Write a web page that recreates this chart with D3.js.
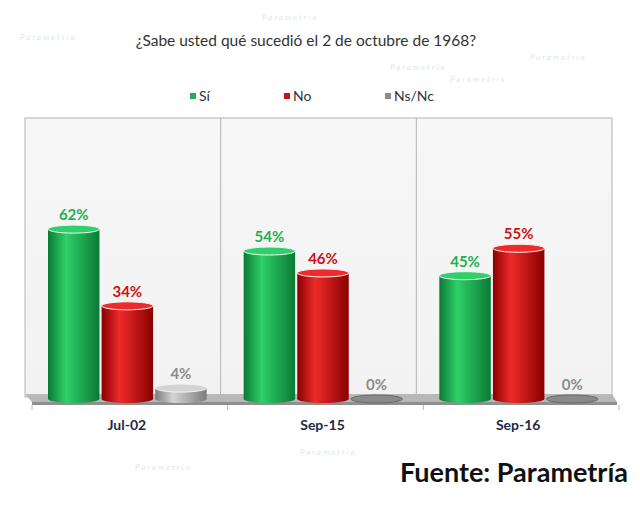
<!DOCTYPE html>
<meta charset="utf-8">
<script src="https://d3js.org/d3.v7.min.js"></script>
<style>
  body { margin: 0; background: #fff; }
  text { font-family: Lato, "Open Sans", sans-serif; }
</style>
<div id="chart"></div>
<script>
// data
var fechas = ["Jul-02", "Sep-15", "Sep-16"];
var series = ["Sí", "No", "Ns/Nc"];
var si = [62, 54, 45];
var no = [34, 46, 55];
var nsnc = [4, 0, 0];

var colores = {"Sí": ["#0a7a34", "#2fd06a"], "No": ["#8a0000", "#ee2a2a"], "Ns/Nc": ["#7d7d7d", "#d4d4d4"]};
var colorEtiqueta = {"Sí": "#22b04f", "No": "#cc1111", "Ns/Nc": "#8c8c8c"};

var filas = fechas.map(function(f, i) {
  return {fecha: f, valores: [
    {serie: "Sí", v: si[i]}, {serie: "No", v: no[i]}, {serie: "Ns/Nc", v: nsnc[i]}]};
});

var width = 640, height = 509;
var plot = {left: 25, right: 612, top: 118, bottom: 397};

var svg = d3.select("#chart").append("svg")
  .attr("width", width)
  .attr("height", height);

var defs = svg.append("defs");
series.forEach(function(s, i) {
  var g = defs.append("linearGradient").attr("id", "cil" + i)
    .attr("x1", "0%").attr("x2", "100%").attr("y1", "0%").attr("y2", "0%");
  g.append("stop").attr("offset", "0%").attr("stop-color", colores[s][0]);
  g.append("stop").attr("offset", "35%").attr("stop-color", colores[s][1]);
  g.append("stop").attr("offset", "100%").attr("stop-color", colores[s][0]);
});
var fondo = defs.append("linearGradient").attr("id", "fondo")
  .attr("x1", "0%").attr("x2", "0%").attr("y1", "0%").attr("y2", "100%");
fondo.append("stop").attr("offset", "0%").attr("stop-color", "#f7f7f7");
fondo.append("stop").attr("offset", "100%").attr("stop-color", "#f2f2f2");

// faint watermark
var marcas = [[262, 20], [20, 40], [450, 82], [390, 70], [530, 60], [135, 470], [300, 455]];
svg.append("g").selectAll("text").data(marcas).enter().append("text")
  .attr("x", function(d) { return d[0]; })
  .attr("y", function(d) { return d[1]; })
  .attr("font-size", 8)
  .attr("font-style", "italic")
  .attr("letter-spacing", 2)
  .attr("fill", "#dde7ee")
  .text("Parametria");

// title
svg.append("text")
  .attr("x", 306).attr("y", 46)
  .attr("text-anchor", "middle")
  .attr("font-size", 15.5)
  .attr("fill", "#333")
  .text("¿Sabe usted qué sucedió el 2 de octubre de 1968?");

// legend
var leyX = [190, 284, 385];
var ley = svg.append("g").selectAll("g").data(series).enter().append("g")
  .attr("transform", function(d, i) { return "translate(" + leyX[i] + ",91)"; });
ley.append("rect").attr("width", 6).attr("height", 6).attr("y", 2)
  .attr("fill", function(d) { return colorEtiqueta[d]; });
ley.append("text").attr("x", 9).attr("y", 10)
  .attr("font-size", 14).attr("fill", "#333")
  .text(function(d) { return d; });

// plot area
svg.append("rect")
  .attr("x", plot.left).attr("y", plot.top)
  .attr("width", plot.right - plot.left).attr("height", plot.bottom - plot.top)
  .attr("fill", "url(#fondo)")
  .attr("stroke", "#b4b4b4");

var x0 = d3.scaleBand().domain(fechas).range([plot.left, plot.right]);
var x1 = d3.scaleBand().domain(series).range([23, x0.bandwidth() - 14]).paddingInner(0.04);
var y = d3.scaleLinear().domain([0, 100]).range([399, 125]);

// dividers
svg.append("g").selectAll("line").data(fechas.slice(1)).enter().append("line")
  .attr("x1", function(d) { return x0(d); }).attr("x2", function(d) { return x0(d); })
  .attr("y1", plot.top).attr("y2", plot.bottom)
  .attr("stroke", "#b4b4b4");

// floor
svg.append("polygon")
  .attr("points", [[plot.left, 394], [plot.right, 394], [plot.right + 5, 402], [plot.left + 7, 402]].join(" "))
  .attr("fill", "#b8b8b8");
svg.append("polygon")
  .attr("points", [[plot.left + 7, 402], [plot.right + 5, 402], [plot.right + 5, 405], [plot.left + 7, 405]].join(" "))
  .attr("fill", "#8f8f8f");
svg.append("g").selectAll("line").data(fechas.concat(["fin"])).enter().append("line")
  .attr("x1", function(d, i) { return (i < 3 ? x0(d) : plot.right) + 7; })
  .attr("x2", function(d, i) { return (i < 3 ? x0(d) : plot.right) + 7; })
  .attr("y1", 405).attr("y2", 410)
  .attr("stroke", "#b4b4b4");

// bars
var grupos = svg.append("g").selectAll("g").data(filas).enter().append("g")
  .attr("transform", function(d) { return "translate(" + x0(d.fecha) + ",0)"; });

var barras = grupos.selectAll("g").data(function(d) { return d.valores; }).enter().append("g");
var ry = 4;

barras.filter(function(d) { return d.v > 0; }).append("rect")
  .attr("x", function(d) { return x1(d.serie); })
  .attr("y", function(d) { return y(d.v); })
  .attr("width", x1.bandwidth())
  .attr("height", function(d) { return y(0) - y(d.v); })
  .attr("fill", function(d, i) { return "url(#cil" + series.indexOf(d.serie) + ")"; });
// bottom ellipse
barras.append("ellipse")
  .attr("cx", function(d) { return x1(d.serie) + x1.bandwidth() / 2; })
  .attr("cy", y(0))
  .attr("rx", x1.bandwidth() / 2)
  .attr("ry", ry)
  .attr("fill", function(d) { return d.v > 0 ? "url(#cil" + series.indexOf(d.serie) + ")" : "#9a9a9a"; });
// top cap
barras.append("ellipse")
  .attr("cx", function(d) { return x1(d.serie) + x1.bandwidth() / 2; })
  .attr("cy", function(d) { return y(d.v); })
  .attr("rx", x1.bandwidth() / 2)
  .attr("ry", ry)
  .attr("fill", function(d) { return d.v > 0 ? colores[d.serie][1] : "#8a8a8a"; })
  .attr("stroke", function(d) { return d.v > 0 ? "#f4f4f4" : "#6a6a6a"; })
  .attr("stroke-width", 1);

// value labels
barras.append("text")
  .attr("x", function(d) { return x1(d.serie) + x1.bandwidth() / 2; })
  .attr("y", function(d) { return y(d.v) - 9; })
  .attr("text-anchor", "middle")
  .attr("font-size", 15)
  .attr("font-weight", "bold")
  .attr("fill", function(d) { return colorEtiqueta[d.serie]; })
  .text(function(d) { return d.v + "%"; });

// category labels
svg.append("g").selectAll("text").data(fechas).enter().append("text")
  .attr("x", function(d) { return x0(d) + x0.bandwidth() / 2 + 4; })
  .attr("y", 430)
  .attr("text-anchor", "middle")
  .attr("font-size", 14)
  .attr("font-weight", "bold")
  .attr("fill", "#1f2a44")
  .text(function(d) { return d; });

// source
svg.append("text")
  .attr("x", 628).attr("y", 482)
  .attr("text-anchor", "end")
  .attr("font-size", 27)
  .attr("font-weight", "bold")
  .attr("fill", "#111")
  .text("Fuente: Parametría");
</script>
